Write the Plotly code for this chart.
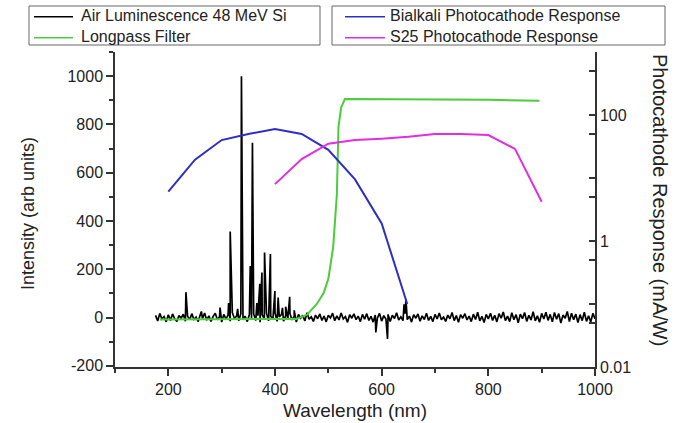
import plotly.graph_objects as go

# ---- Data ----
# Air luminescence: baseline noise sampled every 4 nm starting at 176 nm
BASE_START_NM = 176
BASE_STEP_NM = 4
BASE_VALS = [
    9, -14, 17, -6, 4, -18, 11, -12, 15, -5,
    -16, 8, -3, 14, -15, 6, -9, 16, -8, 2,
    -17, 12, -5, 19, -11, 7, -16, 5, 18, -9,
    3, -19, 13, -6, 10, -15, 20, -4, 6, -13,
    16, -9, 5, -17, 12, -2, 15, -12, 8, -20,
    11, -5, 18, -13, 6, -9, 19, -16, 3, 12,
    -15, 8, -6, 17, -10, 5, -19, 13, -3, 9,
    -14, 20, -7, 3, -16, 10, -5, 15, -12, 6,
    -18, 9, -2, 18, -13, 7, -10, 19, -6, 4,
    -20, 12, -3, 15, -9, 6, -17, 13, -7, 16,
    -12, 5, -19, 10, -2, 17, -15, 8, -6, 13,
    -16, 9, -4, 20, -10, 3, -13, 16, -9, 6,
    -19, 12, -3, 15, -15, 7, -8, 18, -12, 5,
    -17, 13, -6, 19, -9, 2, -16, 10, -5, 21,
    -13, 8, -20, 12, -3, 16, -10, 6, -17, 14,
    -8, 22, -14, 5, -21, 13, -6, 18, -12, 9,
    -18, 16, -3, 23, -13, 6, -17, 20, -9, 12,
    -22, 14, -5, 21, -16, 9, -10, 24, -14, 7,
    -20, 17, -6, 22, -12, 13, -18, 21, -7, 16,
    -23, 10, -3, 25, -17, 18, -9, 14, -21, 12,
    -13, 22, -16, 7, -19, 17, -5, 23,
]
# Emission lines / spikes (nm, intensity)
PEAK_NM = [233, 262, 297, 313, 316, 330, 337.1, 353.6, 357.7, 366, 371.5, 375.5,
           380.4, 391.4, 399.8, 405.9, 414, 420, 427.5, 436, 589, 611, 642, 645.5]
PEAK_VAL = [105, 25, 41, 60, 356, 36, 1000, 213, 724, 60, 140, 186,
            269, 263, 110, 83, 40, 45, 86, 30, -62, -89, 55, 75]

# Longpass filter (plotted on left axis)
FILTER_NM = [184, 300, 400, 440, 460, 478, 491, 500, 509, 513, 516, 519, 524, 531,
             600, 700, 800, 896]
FILTER_VAL = [-8, -8, -6, -6, 12, 55, 100, 160, 290, 400, 510, 790, 870, 905,
              905, 904, 902, 898]

# Photocathode responses (mA/W, right log axis)
BIALKALI_NM = [200, 250, 300, 350, 400, 450, 500, 550, 600, 648]
BIALKALI_VAL = [6.1, 19.5, 40, 50, 60, 50, 28, 9.5, 1.9, 0.1]
S25_NM = [400, 450, 500, 550, 600, 650, 700, 750, 800, 850, 900]
S25_VAL = [8, 20, 35, 40, 42, 45, 50, 50, 48, 29, 4.2]

SERIES_NAMES = ["Air Luminescence 48 MeV Si", "Longpass Filter",
                "Bialkali Photocathode Response", "S25 Photocathode Response"]
SERIES_COLORS = ["black", "#4ccc3c", "#2e2ec4", "#e02ee0"]

Y_TICKS = [-200, 0, 200, 400, 600, 800, 1000]
Y_TICK_TEXT = ["-200", "0", "200", "400", "600", "800", "1000"]
Y2_TICKS = [0.01, 0.05, 0.1, 0.5, 1, 5, 10, 50, 100, 500, 1000]
Y2_TICK_TEXT = ["0.01", "", "", "", "1", "", "", "", "100", "", ""]

# ---- combine baseline and peaks ----
base_nm = [BASE_START_NM + BASE_STEP_NM * i for i in range(len(BASE_VALS))]
pts = list(zip(base_nm, BASE_VALS)) + list(zip(PEAK_NM, PEAK_VAL))
pts.sort(key=lambda p: p[0])
air_nm = [p[0] for p in pts]
air_val = [p[1] for p in pts]

FONT = "Liberation Sans, Arial, sans-serif"
TXT = "#222"
fig = go.Figure()

fig.add_trace(go.Scatter(x=air_nm, y=air_val, mode="lines", name=SERIES_NAMES[0],
                         line=dict(color=SERIES_COLORS[0], width=1.7), yaxis="y"))
fig.add_trace(go.Scatter(x=FILTER_NM, y=FILTER_VAL, mode="lines", name=SERIES_NAMES[1],
                         line=dict(color=SERIES_COLORS[1], width=2), yaxis="y"))
fig.add_trace(go.Scatter(x=BIALKALI_NM, y=BIALKALI_VAL, mode="lines", name=SERIES_NAMES[2],
                         line=dict(color=SERIES_COLORS[2], width=2), yaxis="y2"))
fig.add_trace(go.Scatter(x=S25_NM, y=S25_VAL, mode="lines", name=SERIES_NAMES[3],
                         line=dict(color=SERIES_COLORS[3], width=2), yaxis="y2"))

axis_common = dict(showgrid=False, zeroline=False, showline=True, linecolor="#333",
                   linewidth=1.5, tickcolor="#333", tickwidth=1.5,
                   tickfont=dict(family=FONT, size=16, color=TXT))

# ---- plot geometry helpers (pixel -> paper) for the two boxed legends ----
L, R, T, B, W, H = 115, 82, 52, 56, 677, 423
PW, PH = W - L - R, H - T - B
def px(x):
    return (x - L) / PW
def py(y):
    return (H - B - y) / PH

shapes = []
annotations = []
legend_boxes = [  # (box x0, box x1, line x0, line x1, text x, series indices)
    (29, 320, 34, 73, 79, [0, 1]),
    (332, 665, 345, 385, 388, [2, 3]),
]
row_y = [15.8, 36.7]
for bx0, bx1, lx0, lx1, tx, idxs in legend_boxes:
    shapes.append(dict(type="rect", xref="paper", yref="paper", x0=px(bx0), x1=px(bx1),
                       y0=py(45), y1=py(6), line=dict(color="#666", width=1),
                       fillcolor="white", layer="above"))
    for r, i in enumerate(idxs):
        shapes.append(dict(type="line", xref="paper", yref="paper", x0=px(lx0), x1=px(lx1),
                           y0=py(row_y[r] + 1), y1=py(row_y[r] + 1),
                           line=dict(color=SERIES_COLORS[i], width=1.6)))
        annotations.append(dict(text=SERIES_NAMES[i], xref="paper", yref="paper",
                                x=px(tx), y=py(row_y[r]), xanchor="left", yanchor="middle",
                                showarrow=False, font=dict(family=FONT, size=16, color=TXT)))

annotations += [
    dict(text="Wavelength (nm)", xref="paper", yref="paper", x=0.5, y=py(410),
         xanchor="center", yanchor="middle", showarrow=False,
         font=dict(family=FONT, size=19, color=TXT)),
    dict(text="Intensity (arb units)", xref="paper", yref="paper", x=px(28), y=py(214),
         xanchor="center", yanchor="middle", showarrow=False, textangle=-90,
         font=dict(family=FONT, size=18, color=TXT)),
    dict(text="Photocathode Response (mA/W)", xref="paper", yref="paper", x=px(660), y=py(200),
         xanchor="center", yanchor="middle", showarrow=False, textangle=90,
         font=dict(family=FONT, size=20, color=TXT)),
]

fig.update_layout(
    width=W, height=H,
    margin=dict(l=L, r=R, t=T, b=B),
    paper_bgcolor="white", plot_bgcolor="white",
    font=dict(family=FONT, color=TXT),
    showlegend=False,
    xaxis=dict(range=[100, 1000], tick0=200, dtick=200, ticks="outside", ticklen=7,
               minor=dict(dtick=100, tick0=100, ticks="outside", ticklen=4,
                          tickcolor="#333", tickwidth=1.5, showgrid=False),
               **axis_common),
    yaxis=dict(range=[-205, 1100], tickmode="array", tickvals=Y_TICKS, ticktext=Y_TICK_TEXT,
               ticks="outside", ticklen=7,
               minor=dict(dtick=100, tick0=-200, ticks="outside", ticklen=4,
                          tickcolor="#333", tickwidth=1.5, showgrid=False),
               **axis_common),
    yaxis2=dict(type="log", range=[-2, 3], overlaying="y", side="right", anchor="x",
                tickmode="array", tickvals=Y2_TICKS, ticktext=Y2_TICK_TEXT,
                ticks="inside", ticklen=6,
                **axis_common),
    shapes=shapes,
    annotations=annotations,
)

fig.write_html("out.html")
